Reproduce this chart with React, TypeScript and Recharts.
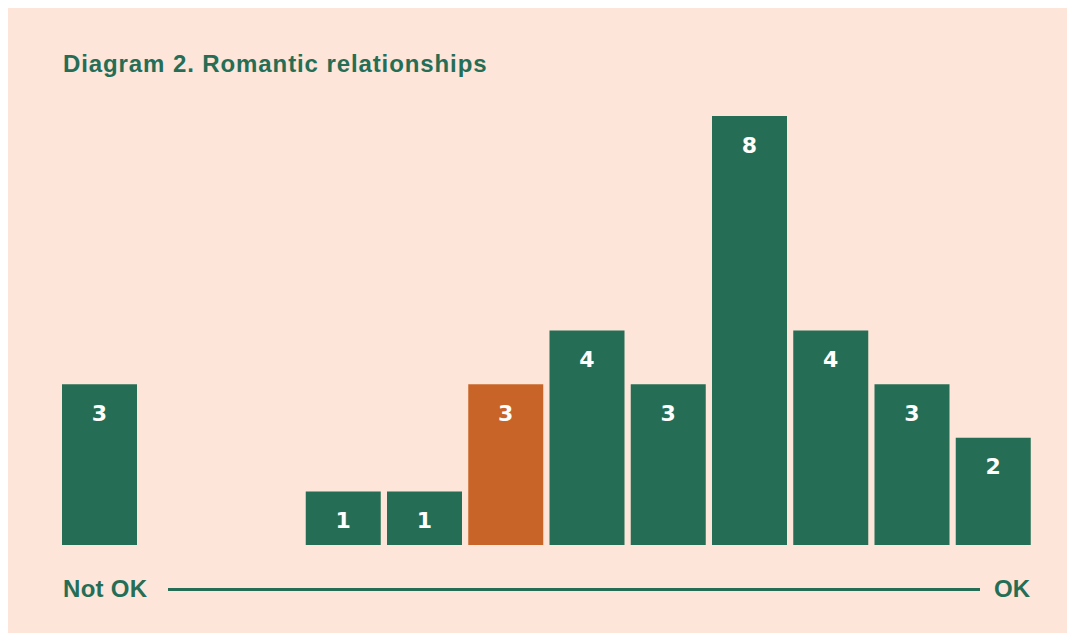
import { BarChart, Bar, XAxis, YAxis, Cell, LabelList } from 'recharts';

// Answers from "Not OK" (left) to "OK" (right)
const scalePoints = ['1', '2', '3', '4', '5', '6', '7', '8', '9', '10', '11', '12'];
const counts = [3, 0, 0, 1, 1, 3, 4, 3, 8, 4, 3, 2];
const highlightIndex = 5;

const title = 'Diagram 2. Romantic relationships';
const leftLabel = 'Not OK';
const rightLabel = 'OK';

const GREEN = '#256e55';
const ORANGE = '#c86428';
const PEACH = '#fde5d9';
const FONT = '"Liberation Sans", Arial, sans-serif';

const data = scalePoints.map((p, i) => ({ point: p, count: counts[i] }));

export default function App() {
  return (
    <div
      style={{
        position: 'relative',
        width: 1060,
        height: 625,
        background: PEACH,
        fontFamily: FONT,
      }}
    >
      <div
        style={{
          position: 'absolute',
          left: 55,
          top: 44,
          fontSize: 24,
          fontWeight: 700,
          color: GREEN,
          lineHeight: 1,
          letterSpacing: 0.9,
        }}
      >
        {title}
      </div>

      <div style={{ position: 'absolute', left: 0, top: 0 }}>
        <BarChart
          width={1060}
          height={560}
          data={data}
          margin={{ top: 108, right: 34, bottom: 23, left: 51 }}
          barSize={75}
        >
          <XAxis dataKey="point" hide />
          <YAxis hide domain={[0, 8]} />
          <Bar dataKey="count" isAnimationActive={false}>
            {data.map((d, i) => (
              <Cell key={d.point} fill={i === highlightIndex ? ORANGE : GREEN} />
            ))}
            <LabelList
              dataKey="count"
              position="insideTop"
              offset={21}
              formatter={(v: number) => (v === 0 ? '' : v)}
              style={{
                fill: '#ffffff',
                fontSize: 22,
                fontWeight: 700,
                fontFamily: '"DejaVu Sans", sans-serif',
              }}
            />
          </Bar>
        </BarChart>
      </div>

      {/* bottom scale: Not OK ---- OK */}
      <div
        style={{
          position: 'absolute',
          left: 55,
          top: 569,
          fontSize: 24,
          fontWeight: 700,
          color: GREEN,
          lineHeight: 1,
          letterSpacing: 0.3,
        }}
      >
        {leftLabel}
      </div>
      <div
        style={{
          position: 'absolute',
          left: 160,
          top: 580,
          width: 812,
          height: 3,
          background: GREEN,
        }}
      />
      <div
        style={{
          position: 'absolute',
          right: 38,
          top: 569,
          fontSize: 24,
          fontWeight: 700,
          color: GREEN,
          lineHeight: 1,
        }}
      >
        {rightLabel}
      </div>
    </div>
  );
}
